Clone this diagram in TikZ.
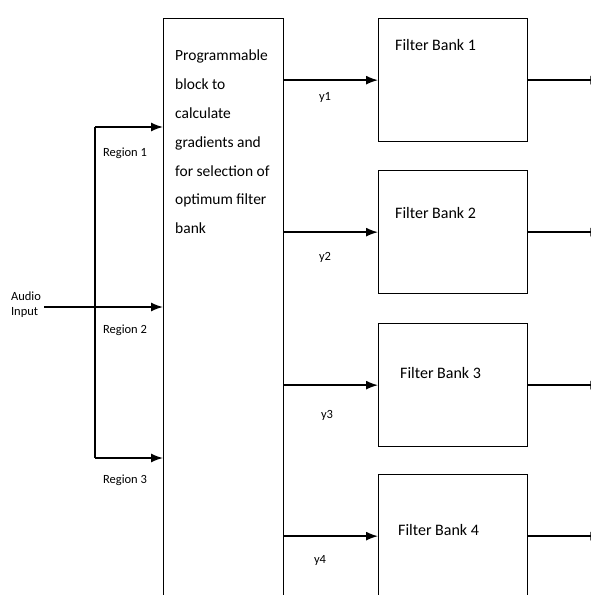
\documentclass[tikz,border=0pt]{standalone}
\usepackage{fontspec}
\setmainfont{Carlito}
\usetikzlibrary{arrows.meta, positioning}

\tikzset{
  block/.style={draw, line width=1.3pt, minimum width=149pt, minimum height=123pt, inner sep=0pt, anchor=north west},
  wire/.style={line width=1.5pt},
  lbl/.style={font=\fontsize{12.5}{15}\selectfont, inner sep=0pt},
  fblbl/.style={font=\fontsize{16}{19}\selectfont, inner sep=0pt, anchor=west},
}

\begin{document}
\begin{tikzpicture}[x=1pt, y=-1pt, >={Latex[length=12pt,width=9pt]}]
  \useasboundingbox (0,0) rectangle (590,595);

  % Programmable block
  \node[block, minimum width=120pt, minimum height=620pt] (prog) at (163,18) {};
  \node[anchor=north west, align=left, inner sep=0pt, font=\fontsize{15.5}{28.8}\selectfont] (progtxt) at (175,50)
    {Programmable\\block to\\calculate\\gradients and\\for selection of\\optimum filter\\bank};

  % Filter banks
  \node[block] (fb1) at (378,18) {};
  \node[block] (fb2) at (378,170) {};
  \node[block] (fb3) at (378,323) {};
  \node[block] (fb4) at (378,474) {};
  \node[fblbl] (fb1txt) at (395,45) {Filter Bank 1};
  \node[fblbl] (fb2txt) at (395,213) {Filter Bank 2};
  \node[fblbl] (fb3txt) at (400,373) {Filter Bank 3};
  \node[fblbl] (fb4txt) at (398,530) {Filter Bank 4};

  % Audio input and regions
  \node[lbl, align=left] (audio) at (26,305) {Audio\\Input};
  \coordinate (split) at (95,307);
  \coordinate (r1) at (95,127);
  \coordinate (r3) at (95,458);
  \draw[wire] (r1) -- (r3);
  \draw[wire, ->] ([xshift=3pt]audio.east |- split) -- (split -| prog.west);
  \draw[wire, ->] (r1) -- (r1 -| prog.west);
  \draw[wire, ->] (r3) -- (r3 -| prog.west);
  \node[lbl] (reg1) at (125,153) {Region 1};
  \node[lbl] (reg2) at (125,330) {Region 2};
  \node[lbl] (reg3) at (125,480) {Region 3};

  % Block outputs y1..y4
  \draw[wire, ->] (fb1.west -| prog.east) -- (fb1.west);
  \draw[wire, ->] (fb2.west -| prog.east) -- (fb2.west);
  \draw[wire, ->] (fb3.west -| prog.east) -- (fb3.west);
  \draw[wire, ->] (fb4.west -| prog.east) -- (fb4.west);
  \node[lbl] (y1) at (325,97) {y1};
  \node[lbl] (y2) at (325,257) {y2};
  \node[lbl] (y3) at (327,415) {y3};
  \node[lbl] (y4) at (320,560) {y4};

  % Filter bank outputs
  \coordinate (out1) at ([xshift=74pt]fb1.east);
  \coordinate (out2) at ([xshift=74pt]fb2.east);
  \coordinate (out3) at ([xshift=74pt]fb3.east);
  \coordinate (out4) at ([xshift=74pt]fb4.east);
  \draw[wire, ->] (fb1.east) -- (out1);
  \draw[wire, ->] (fb2.east) -- (out2);
  \draw[wire, ->] (fb3.east) -- (out3);
  \draw[wire, ->] (fb4.east) -- (out4);
\end{tikzpicture}
\end{document}
